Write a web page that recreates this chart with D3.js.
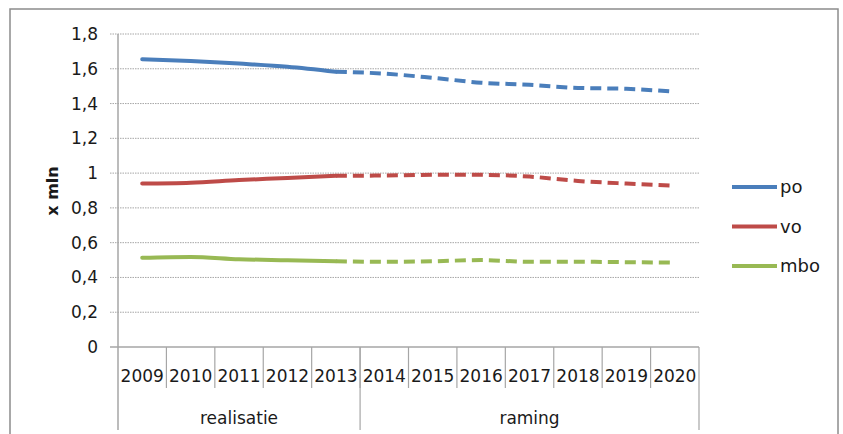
<!DOCTYPE html>
<html><head><meta charset="utf-8">
<script src="https://cdn.jsdelivr.net/npm/d3@7"></script>
<style>body{margin:0;background:#fff}svg{display:block}text{font-family:"DejaVu Sans",sans-serif;fill:#1a1a1a}</style>
</head><body><svg id="c" width="843" height="434"></svg>
<script>
const years = ["2009","2010","2011","2012","2013","2014","2015","2016","2017","2018","2019","2020"];
const groups = [{name:"realisatie", from:"2009", to:"2013"}, {name:"raming", from:"2014", to:"2020"}];
const lastActual = "2013";
const po  = [1.655,1.645,1.630,1.612,1.583,1.572,1.548,1.520,1.508,1.490,1.485,1.468];
const vo  = [0.940,0.945,0.960,0.972,0.985,0.986,0.990,0.990,0.980,0.955,0.940,0.928];
const mbo = [0.513,0.518,0.505,0.499,0.493,0.490,0.493,0.500,0.490,0.490,0.488,0.485];
const yTicks = [0,0.2,0.4,0.6,0.8,1,1.2,1.4,1.6,1.8];
const series = [{name:"po",values:po,color:"#4a7ebb"},{name:"vo",values:vo,color:"#be4b48"},{name:"mbo",values:mbo,color:"#98b954"}];

const svg = d3.select("#c");
const L=118, R=699, T=34, B=347;
svg.append("rect").attr("x",10).attr("y",9).attr("width",828).attr("height",430)
  .attr("fill","none").attr("stroke","#8c8c8c").attr("stroke-width",1.5);

const x = d3.scaleBand().domain(years).range([L,R]).padding(0);
const y = d3.scaleLinear().domain([0,1.8]).range([B,T]);
const fmt = v => String(v).replace(".",",");

// gridlines
svg.append("g").selectAll("line").data(yTicks.filter(d=>d>0)).join("line")
  .attr("x1",L-8).attr("x2",R).attr("y1",d=>y(d)).attr("y2",d=>y(d))
  .attr("stroke","#a6a6a6").attr("stroke-width",1).attr("stroke-dasharray","1.5,1");

// y axis
const ya = svg.append("g").attr("transform",`translate(${L},0)`)
  .call(d3.axisLeft(y).tickValues(yTicks).tickFormat(fmt).tickSize(0).tickPadding(20));
ya.select(".domain").remove();
ya.selectAll("text").style("font-size","17px").attr("fill","#1a1a1a");
svg.append("line").attr("x1",L).attr("x2",L).attr("y1",T).attr("y2",430).attr("stroke","#a6a6a6").attr("stroke-width",1.5);
svg.append("line").attr("x1",L-8).attr("x2",R).attr("y1",B).attr("y2",B).attr("stroke","#a6a6a6").attr("stroke-width",1.5);

// x axis year labels
const xa = svg.append("g").attr("transform",`translate(0,${B})`)
  .call(d3.axisBottom(x).tickSize(0).tickPadding(23));
xa.select(".domain").remove();
xa.selectAll("text").style("font-size","17px").attr("fill","#1a1a1a");
// separators between years
svg.append("g").selectAll("line").data(years.slice(1)).join("line")
  .attr("x1",d=>x(d)).attr("x2",d=>x(d)).attr("y1",B).attr("y2",388)
  .attr("stroke","#a6a6a6").attr("stroke-width",1.2);
// group separators and labels
groups.forEach(g=>{
  const gx0 = x(g.from), gx1 = x(g.to)+x.bandwidth();
  svg.append("line").attr("x1",gx1).attr("x2",gx1).attr("y1",B).attr("y2",430).attr("stroke","#a6a6a6").attr("stroke-width",1.2);
  svg.append("text").attr("x",(gx0+gx1)/2).attr("y",424).attr("text-anchor","middle").style("font-size","17px").text(g.name);
});

// y label
svg.append("text").attr("transform","translate(58,191) rotate(-90)").attr("text-anchor","middle")
  .style("font-size","16px").style("font-weight","bold").text("x mln");

// lines
const cx = d => x(d)+x.bandwidth()/2;
const idx = years.indexOf(lastActual);
series.forEach(s=>{
  const pts = years.map((yr,i)=>({yr,v:s.values[i]}));
  const line = d3.line().x(d=>cx(d.yr)).y(d=>y(d.v)).curve(d3.curveMonotoneX);
  svg.append("path").attr("d",line(pts.slice(idx))).attr("fill","none").attr("stroke",s.color)
    .attr("stroke-width",4).attr("stroke-dasharray","11,6");
  svg.append("path").attr("d",line(pts.slice(0,idx+1))).attr("fill","none").attr("stroke",s.color)
    .attr("stroke-width",4).attr("stroke-linecap","round");
});

// legend
const lg = svg.append("g");
series.forEach((s,i)=>{
  const ly = 187 + i*39.5;
  lg.append("line").attr("x1",732).attr("x2",777).attr("y1",ly).attr("y2",ly).attr("stroke",s.color).attr("stroke-width",4);
  lg.append("text").attr("x",780).attr("y",ly+6).style("font-size","18px").text(s.name);
});
</script></body></html>
